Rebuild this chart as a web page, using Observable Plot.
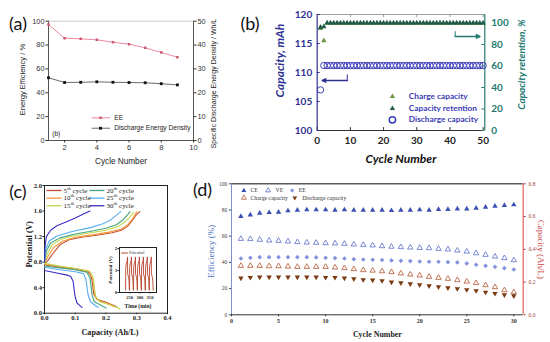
<!DOCTYPE html>
<html><head><meta charset="utf-8">
<script src="https://cdn.jsdelivr.net/npm/d3@7"></script>
<script src="https://cdn.jsdelivr.net/npm/@observablehq/plot@0.6"></script>
<style>
html,body{margin:0;padding:0;background:#fff;}
#wrap{position:relative;width:550px;height:342px;overflow:hidden;background:#fff;}
</style></head>
<body><div id="wrap"></div>
<script>
// ===================== DATA =====================
// Panel (a)
const cyclesA = [1,2,3,4,5,6,7,8,9];
const eeA = [97.2,85.7,85.2,84.4,82.4,80.7,77.7,73.8,69.8];
const densityA = [26.3,24.3,24.4,24.6,24.4,24.3,24.2,23.8,23.3];
const ticksAx = [2,4,6,8,10];
const ticksAy = [0,20,40,60,80,100];
const ticksAy2 = [0,10,20,30,40,50];
const legendA = ["EE","Discharge Energy Density"];

// Panel (b)
const cyclesB = [1,2,3,4,5,6,7,8,9,10,11,12,13,14,15,16,17,18,19,20,21,22,23,24,25,26,27,28,29,30,31,32,33,34,35,36,37,38,39,40,41,42,43,44,45,46,47,48,49,50];
const chargeB = [117.6,115.5,118.5,118.5,118.5,118.5,118.5,118.5,118.5,118.5,118.5,118.5,118.5,118.5,118.5,118.5,118.5,118.5,118.5,118.5,118.5,118.5,118.5,118.5,118.5,118.5,118.5,118.5,118.5,118.5,118.5,118.5,118.5,118.5,118.5,118.5,118.5,118.5,118.5,118.5,118.5,118.5,118.5,118.5,118.5,118.5,118.5,118.5,118.5,118.5];
const retentionB = [96.2,96.6,100,100,100,100,100,100,100,100,100,100,100,100,100,100,100,100,100,100,100,100,100,100,100,100,100,100,100,100,100,100,100,100,100,100,100,100,100,100,100,100,100,100,100,100,100,100,100,100];
const dischargeB = [107.0,111.2,111.2,111.2,111.2,111.2,111.2,111.2,111.2,111.2,111.2,111.2,111.2,111.2,111.2,111.2,111.2,111.2,111.2,111.2,111.2,111.2,111.2,111.2,111.2,111.2,111.2,111.2,111.2,111.2,111.2,111.2,111.2,111.2,111.2,111.2,111.2,111.2,111.2,111.2,111.2,111.2,111.2,111.2,111.2,111.2,111.2,111.2,111.2,111.2];
const ticksBx = [0,10,20,30,40,50];
const ticksBy = [100,105,110,115,120];
const ticksBy2 = [0,20,40,60,80,100];
const legendB = ["Charge capacity","Capacity retention","Discharge capacity"];

// Panel (c)
const cycleNamesC = ["5","10","15","20","25","30"];
const chargeC = [
  [[0,0.77],[0.01,0.82],[0.03,0.95],[0.05,1.07],[0.08,1.15],[0.12,1.19],[0.17,1.22],[0.22,1.26],[0.25,1.30],[0.27,1.36],[0.285,1.45],[0.3,1.55],[0.31,1.59]],
  [[0,0.78],[0.01,0.88],[0.03,1.03],[0.06,1.13],[0.10,1.19],[0.16,1.23],[0.21,1.27],[0.25,1.32],[0.27,1.38],[0.285,1.47],[0.295,1.55],[0.30,1.59]],
  [[0,0.79],[0.008,0.92],[0.025,1.07],[0.05,1.15],[0.09,1.21],[0.15,1.26],[0.2,1.30],[0.24,1.36],[0.265,1.44],[0.28,1.52],[0.29,1.58]],
  [[0,0.80],[0.006,0.97],[0.02,1.10],[0.05,1.18],[0.1,1.24],[0.16,1.29],[0.2,1.33],[0.235,1.39],[0.255,1.46],[0.27,1.54],[0.278,1.59]],
  [[0,0.82],[0.004,1.0],[0.015,1.13],[0.04,1.21],[0.09,1.28],[0.15,1.34],[0.19,1.40],[0.215,1.46],[0.235,1.54],[0.248,1.59]],
  [[0,0.80],[0.002,1.05],[0.006,1.2],[0.02,1.3],[0.04,1.37],[0.07,1.43],[0.1,1.49],[0.125,1.55],[0.148,1.60]]
];
const dischargeC = [
  [[0,0.76],[0.05,0.72],[0.1,0.69],[0.14,0.65],[0.15,0.6],[0.155,0.5],[0.16,0.3],[0.17,0.22],[0.2,0.17],[0.235,0.1]],
  [[0,0.77],[0.05,0.73],[0.1,0.70],[0.145,0.66],[0.155,0.58],[0.16,0.45],[0.165,0.27],[0.175,0.2],[0.21,0.14],[0.225,0.1]],
  [[0,0.78],[0.05,0.74],[0.1,0.70],[0.148,0.65],[0.158,0.55],[0.163,0.35],[0.168,0.24],[0.18,0.18],[0.22,0.12],[0.245,0.07]],
  [[0,0.74],[0.05,0.71],[0.1,0.68],[0.138,0.64],[0.148,0.55],[0.152,0.4],[0.155,0.28],[0.162,0.18],[0.185,0.12],[0.2,0.08]],
  [[0,0.72],[0.05,0.68],[0.1,0.65],[0.127,0.62],[0.135,0.52],[0.139,0.38],[0.142,0.28],[0.15,0.18],[0.165,0.12],[0.175,0.09]],
  [[0,0.67],[0.04,0.63],[0.07,0.6],[0.085,0.58],[0.093,0.5],[0.097,0.35],[0.1,0.25],[0.106,0.16],[0.115,0.12],[0.122,0.09]]
];
const ticksCx = [0,0.1,0.2,0.3,0.4];
const ticksCy = [0,0.4,0.8,1.2,1.6,2.0];
const insetTime = [230,230.5,233,238,239.5,240,245,247,248.5, 249.5,250,252.5,257.5,259,259.5,264.5,266.5,268, 269,269.5,272,277,278.5,279,284,286,287.5, 288.5,289,291.5,296.5,298,298.5,303.5,305.5,307, 308,308.5,311,316,317.5,318,323,325,326.5, 327.5,328,330.5,335.5,337,337.5,342.5,344.5,346, 347,347.5,350,355,356.5,357,362,364,365.5];
const insetV = [0.1,1.1,1.3,1.45,1.62,0.85,0.68,0.5,0.1, 0.1,1.1,1.3,1.45,1.62,0.85,0.68,0.5,0.1, 0.1,1.1,1.3,1.45,1.62,0.85,0.68,0.5,0.1, 0.1,1.1,1.3,1.45,1.62,0.85,0.68,0.5,0.1, 0.1,1.1,1.3,1.45,1.62,0.85,0.68,0.5,0.1, 0.1,1.1,1.3,1.45,1.62,0.85,0.68,0.5,0.1, 0.1,1.1,1.3,1.45,1.62,0.85,0.68,0.5,0.1];
const ticksInsetX = [250,300,350];
const ticksInsetY = [0,1,2];

// Panel (d)
const cyclesD = [1,2,3,4,5,6,7,8,9,10,11,12,13,14,15,16,17,18,19,20,21,22,23,24,25,26,27,28,29,30];
const ceD = [75.1,76.3,77.6,78.1,78.4,79.4,79.9,80.2,80.2,80.2,79.9,80.2,79.9,79.9,79.9,79.9,79.6,79.9,79.9,80.2,79.9,80.4,80.4,80.9,80.9,81.4,82.2,82.9,83.5,84.0];
const veD = [58,57.8,57.3,56.7,56.5,56,55.5,55.2,55,54.7,54.5,54.2,53.7,53.4,53,52.4,52,51.7,51.4,51.1,50.9,50.4,49.9,49.1,48.3,47,45.8,44.5,43.3,41.7];
const eeD = [43,43.5,44,44,44,44,44,44,43.8,43.5,43.3,43,42.5,42.2,42,41.8,41.5,41.2,41,40.7,40.5,40.5,40.2,40,39.2,38.2,37.4,36.6,35.6,34.6];
const chargeD = [0.299,0.299,0.299,0.297,0.297,0.295,0.293,0.293,0.293,0.293,0.289,0.285,0.279,0.273,0.270,0.266,0.261,0.253,0.246,0.240,0.232,0.226,0.220,0.212,0.203,0.194,0.181,0.169,0.150,0.138];
const dischargeD = [0.224,0.228,0.230,0.230,0.230,0.230,0.230,0.230,0.230,0.228,0.228,0.224,0.220,0.214,0.212,0.208,0.200,0.195,0.189,0.183,0.177,0.171,0.165,0.159,0.153,0.147,0.138,0.130,0.122,0.116];
const ticksDx = [0,5,10,15,20,25,30];
const ticksDy = [0,20,40,60,80,100];
const ticksDy2 = [0,0.2,0.4,0.6,0.8];

// ===================== STYLES =====================
const colorsC = ["#c4502f","#f2983a","#c3d64e","#45a57a","#58aef0","#3a2ec6"];
const SANS = "'Liberation Sans', Arial, sans-serif";
const LATO = "Lato, 'Liberation Sans', sans-serif";
const SERIF = "'Liberation Serif', 'Times New Roman', serif";
const wrap = document.getElementById("wrap");
function place(svg, left, top) {
  svg.style.position = "absolute";
  svg.style.left = left + "px";
  svg.style.top = top + "px";
  wrap.appendChild(svg);
}
const st = (ff) => ({background: "transparent", overflow: "visible", fontFamily: ff, maxWidth: "none"});
const T = (s, o) => Plot.text([s], {text: d => d, textAnchor: "middle", lineAnchor: "middle", ...o});

// ===================== PANEL (a) =====================
const kA = 100 / 50;
const rowsA = cyclesA.map((c, i) => ({c, ee: eeA[i], dens: densityA[i] * kA}));
const A = Plot.plot({
  width: 230, height: 171, marginLeft: 48, marginRight: 37, marginTop: 20.7, marginBottom: 31,
  x: {domain: [1, 10]}, y: {domain: [0, 100]},
  style: st(SANS),
  marks: [
    Plot.ruleY([100], {stroke: "#c8c8c8"}),
    Plot.ruleX([1, 10], {stroke: "#555"}),
    Plot.ruleY([0], {stroke: "#555"}),
    Plot.line(rowsA, {x: "c", y: "ee", stroke: "#f08aa2", strokeWidth: 1}),
    Plot.dot(rowsA, {x: "c", y: "ee", symbol: "square", r: 1.4, fill: "#c9556a"}),
    Plot.line(rowsA, {x: "c", y: "dens", stroke: "#62706a", strokeWidth: 1}),
    Plot.dot(rowsA, {x: "c", y: "dens", symbol: "square", r: 1.6, fill: "#111"}),
    Plot.axisY(ticksAy, {anchor: "left", tickSize: 2.5, tickPadding: 1.5, fontSize: 7.4, color: "#333", label: null}),
    Plot.axisY(ticksAy2.map(v => v * kA), {anchor: "right", tickSize: 2.5, tickPadding: 1.5, tickFormat: d => d / kA, fontSize: 7.4, color: "#333", label: null}),
    Plot.axisX(ticksAx, {anchor: "bottom", tickSize: 2.5, tickPadding: 1.5, fontSize: 7.6, color: "#333", label: null}),
    // legend
    Plot.ruleY([19.0], {x1: 3.71, x2: 4.85, stroke: "#f08aa2"}),
    Plot.dot([0], {x: 4.23, y: 19.0, symbol: "square", r: 1.4, fill: "#c9556a"}),
    Plot.ruleY([10.3], {x1: 3.71, x2: 4.85, stroke: "#62706a"}),
    Plot.dot([0], {x: 4.23, y: 10.3, symbol: "square", r: 1.6, fill: "#111"}),
    Plot.text(legendA, {x: 5.08, y: (d, i) => [19.0, 10.3][i], text: d => d, textAnchor: "start", fontSize: 6.6, fill: "#222"}),
    Plot.text(["(b)"], {x: 1.23, y: 5.6, text: d => d, textAnchor: "start", fontSize: 6.6, fill: "#222"}),
    // titles
    T("Energy Efficiency / %", {frameAnchor: "left", dx: -26.3, dy: -1.3, rotate: -90, fontSize: 7.6, fill: "#222"}),
    T("Specific Discharge Energy Density / Wh/L", {frameAnchor: "right", dx: 20, dy: 2.7, rotate: -90, fontSize: 7, fill: "#222"}),
    T("Cycle Number", {frameAnchor: "bottom", dy: 21, fontSize: 8.2, fill: "#222"}),
    T("(a)", {frameAnchor: "top-left", dx: -30.5, dy: 3.3, fontSize: 18, fontFamily: LATO, fill: "#111"})
  ]
});
place(A, 0, 0);

// ===================== PANEL (b) =====================
const kB = (118.53 - 100) / 100;
const blueB = "#2e3192", tealB = "#237a72";
const rowsB = cyclesB.map((c, i) => ({c, ch: chargeB[i], ret: 100 + retentionB[i] * kB, dis: dischargeB[i]}));
const B = Plot.plot({
  width: 320, height: 171, marginLeft: 86.7, marginRight: 65.7, marginTop: 14, marginBottom: 41,
  x: {domain: [0, 50.5]}, y: {domain: [100, 120]},
  style: st(LATO),
  marks: [
    Plot.ruleY([120], {stroke: "#a0a0a0"}),
    Plot.ruleX([0], {stroke: blueB, strokeWidth: 1.2}),
    Plot.ruleX([50.5], {stroke: tealB, strokeWidth: 1.2}),
    Plot.ruleY([100], {stroke: "#333", strokeWidth: 1.2}),
    Plot.ruleX(ticksBx, {y1: 100, y2: 100.5, stroke: "#333"}),
    Plot.ruleX(ticksBx, {y1: 119.5, y2: 120, stroke: "#999"}),
    Plot.ruleY(ticksBy, {x1: 0, x2: 0.9, stroke: blueB}),
    Plot.ruleY(ticksBy2.map(r => 100 + r * kB), {x1: 49.6, x2: 50.5, stroke: tealB}),
    Plot.dot(rowsB, {x: "c", y: "dis", r: 3.2, stroke: "#3d3db8", strokeWidth: 1, fill: "none"}),
    Plot.dot(rowsB, {x: "c", y: "ch", symbol: "triangle", r: 2, fill: "#6a9442"}),
    Plot.dot(rowsB, {x: "c", y: "ret", symbol: "triangle", r: 2, fill: "#1f5a4c"}),
    // arrows
    Plot.link([0], {x1: 9.06, y1: 109.66, x2: 9.06, y2: 108.62, stroke: blueB}),
    Plot.arrow([0], {x1: 9.06, y1: 108.62, x2: 1.51, y2: 108.62, stroke: blueB, headLength: 4, headAngle: 50}),
    Plot.link([0], {x1: 41.57, y1: 117.12, x2: 41.57, y2: 116.21, stroke: tealB}),
    Plot.arrow([0], {x1: 41.57, y1: 116.21, x2: 49.03, y2: 116.21, stroke: tealB, headLength: 4, headAngle: 50}),
    // axes
    Plot.axisY(ticksBy, {anchor: "left", tickSize: 0, tickPadding: 5, fontSize: 10, fontWeight: "bold", color: blueB, label: null}),
    Plot.axisY(ticksBy2.map(r => 100 + r * kB), {anchor: "right", tickSize: 0, tickPadding: 6.5, tickFormat: d => Math.round((d - 100) / kB), fontSize: 10, fontWeight: "bold", color: tealB, label: null}),
    Plot.axisX(ticksBx, {anchor: "bottom", tickSize: 0, tickPadding: 6, fontSize: 10, fontWeight: "bold", color: "#222", label: null}),
    // legend
    Plot.dot([0], {x: 22.66, y: 105.86, symbol: "triangle", r: 2, fill: "#6a9442"}),
    Plot.dot([0], {x: 22.66, y: 103.79, symbol: "triangle", r: 2, fill: "#1f5a4c"}),
    Plot.dot([0], {x: 22.66, y: 101.84, r: 3.2, stroke: "#3d3db8", fill: "none"}),
    Plot.text(legendB, {x: 27.6, y: (d, i) => [105.86, 103.79, 101.84][i], text: d => d, textAnchor: "start", fontSize: 8.3, fontWeight: "bold", fill: "#3a3ab4"}),
    // titles
    T("Capacity, mAh", {frameAnchor: "left", dx: -37.2, dy: -12, rotate: -90, fontSize: 12, fontWeight: "bold", fontStyle: "italic", fill: blueB}),
    T("Capacity retention, %", {frameAnchor: "right", dx: 36.7, dy: -8, rotate: -90, fontSize: 10, fontWeight: "bold", fontStyle: "italic", fill: tealB}),
    T("Cycle Number", {frameAnchor: "bottom", dy: 28.3, fontSize: 12, fontWeight: "bold", fontStyle: "italic", fill: "#111"}),
    T("(b)", {frameAnchor: "top-left", dx: -67.2, dy: 10, fontSize: 18, fill: "#111"})
  ]
});
place(B, 230, 0);

// ===================== PANEL (c) =====================
const pxC = 0.4 / 123;           // data units per pixel on the capacity axis
const digitW = 3.5;              // width of one digit at the legend font size
const legendPos = [
  {x1: 0.0065, x2: 0.0553, tx: 0.0618, y: 1.922},
  {x1: 0.0065, x2: 0.0553, tx: 0.0618, y: 1.802},
  {x1: 0.0065, x2: 0.0553, tx: 0.0618, y: 1.683},
  {x1: 0.146, x2: 0.195, tx: 0.2016, y: 1.922},
  {x1: 0.146, x2: 0.195, tx: 0.2016, y: 1.802},
  {x1: 0.146, x2: 0.195, tx: 0.2016, y: 1.683}
];
const legC = cycleNamesC.map((n, i) => ({
  n, color: colorsC[i], ...legendPos[i],
  thx: legendPos[i].tx + (n.length * digitW + 0.2) * pxC,
  cx: legendPos[i].tx + (n.length * digitW + 5.6) * pxC
}));
const C = Plot.plot({
  width: 190, height: 171, marginLeft: 44, marginRight: 23, marginTop: 14, marginBottom: 29.3,
  x: {domain: [0, 0.4]}, y: {domain: [0, 2]},
  style: st(SERIF),
  marks: [
    Plot.frame({stroke: "#222"}),
    ...cycleNamesC.map((n, i) => Plot.line(chargeC[i], {x: d => d[0], y: d => d[1], stroke: colorsC[i], strokeWidth: 1.1})),
    ...cycleNamesC.map((n, i) => Plot.line(dischargeC[i], {x: d => d[0], y: d => d[1], stroke: colorsC[i], strokeWidth: 1.1})),
    Plot.axisY(ticksCy, {anchor: "left", tickSize: 1.5, tickPadding: 1, tickFormat: d3.format(".1f"), fontSize: 6.6, fontWeight: "bold", color: "#222", label: null}),
    Plot.axisX(ticksCx, {anchor: "bottom", tickSize: 1.5, tickPadding: 1, tickFormat: d3.format(".1f"), fontSize: 6.6, fontWeight: "bold", color: "#222", label: null}),
    Plot.link(legC, {x1: "x1", x2: "x2", y1: "y", y2: "y", stroke: "color", strokeWidth: 1.3}),
    Plot.text(legC, {x: "tx", y: "y", text: "n", textAnchor: "start", fontSize: 7, fill: "#222"}),
    Plot.text(legC, {x: "thx", y: "y", text: () => "th", textAnchor: "start", fontSize: 4.6, fill: "#222", dy: -2.2}),
    Plot.text(legC, {x: "cx", y: "y", text: () => "cycle", textAnchor: "start", fontSize: 7, fill: "#222"}),
    T("Potential (V)", {frameAnchor: "left", dx: -15.7, dy: -5, rotate: -90, fontSize: 8.5, fontWeight: "bold", fill: "#222"}),
    T("Capacity (Ah/L)", {frameAnchor: "bottom", dx: 4, dy: 19.3, fontSize: 8.2, fontWeight: "bold", fill: "#222"}),
    T("(c)", {frameAnchor: "top-left", dx: -26.5, dy: 7, fontSize: 18, fontFamily: LATO, fill: "#111"})
  ]
});
place(C, 0, 171);

// inset
const insetRows = insetTime.map((t, i) => ({t, v: insetV[i]}));
const I = Plot.plot({
  width: 70, height: 75, marginLeft: 19, marginRight: 14, marginTop: 7, marginBottom: 23,
  x: {domain: [200, 382]}, y: {domain: [0, 2.05]},
  style: st(SERIF),
  marks: [
    Plot.frame({stroke: "#222", fill: "white"}),
    Plot.line(insetRows, {x: "t", y: "v", stroke: "#b8442c", strokeWidth: 0.9}),
    Plot.axisY(ticksInsetY, {anchor: "left", tickSize: 1.5, tickPadding: 0.8, fontSize: 5, fontWeight: "bold", color: "#222", label: null}),
    Plot.axisX(ticksInsetX, {anchor: "bottom", tickSize: 1.5, tickPadding: 1.5, fontSize: 4.6, fontWeight: "bold", color: "#222", label: null}),
    Plot.ruleY([1.8], {x1: 211, x2: 244, stroke: "#b8442c", strokeWidth: 1}),
    Plot.text(["Potential"], {x: 247, y: 1.8, text: d => d, textAnchor: "start", fontSize: 4.3, fill: "#333"}),
    T("Potential (V)", {frameAnchor: "left", dx: -9.5, rotate: -90, fontSize: 5, fontWeight: "bold", fill: "#222"}),
    T("Time (min)", {frameAnchor: "bottom", dy: 14, fontSize: 5.6, fontWeight: "bold", fill: "#222"})
  ]
});
place(I, 100, 240);

// ===================== PANEL (d) =====================
const kD = 100 / 0.8;
const triDown = {draw(ctx, size) {
  const s3 = Math.sqrt(3), y = -Math.sqrt(size / (s3 * 3));
  ctx.moveTo(0, -2 * y); ctx.lineTo(-s3 * y, y); ctx.lineTo(s3 * y, y); ctx.closePath();
}};
const rowsD = cyclesD.map((c, i) => ({c, ce: ceD[i], ve: veD[i], ee: eeD[i], ch: chargeD[i] * kD, dis: dischargeD[i] * kD}));
const cCE = "#3b4fb2", cVE = "#5a6cc8", cEE = "#8592dc", cCh = "#b3552e", cDis = "#7a3b12";
const D = Plot.plot({
  width: 360, height: 171, marginLeft: 41, marginRight: 27.3, marginTop: 12.3, marginBottom: 27.7,
  x: {domain: [0, 31]}, y: {domain: [0, 100]},
  style: st(SERIF),
  marks: [
    Plot.ruleY([100], {stroke: "#5a5a5a", strokeWidth: 1.6}),
    Plot.ruleX([0], {stroke: "#7f8fc8"}),
    Plot.ruleX([31], {stroke: "#e06060", strokeWidth: 1.2}),
    Plot.ruleY([0], {stroke: "#333"}),
    Plot.dot(rowsD, {x: "c", y: "ce", symbol: "triangle", r: 2, fill: cCE}),
    Plot.dot(rowsD, {x: "c", y: "ve", symbol: "triangle", r: 2, stroke: cVE, strokeWidth: 0.8, fill: "none"}),
    Plot.dot(rowsD, {x: "c", y: "ee", symbol: "diamond2", r: 2.1, fill: cEE}),
    Plot.dot(rowsD, {x: "c", y: "ch", symbol: "triangle", r: 2, stroke: cCh, strokeWidth: 0.8, fill: "none"}),
    Plot.dot(rowsD, {x: "c", y: "dis", symbol: triDown, r: 2, fill: cDis}),
    Plot.axisY(ticksDy, {anchor: "left", tickSize: 2, tickPadding: 2.3, fontSize: 5.5, color: "#444", label: null}),
    Plot.axisY(ticksDy2.map(v => v * kD), {anchor: "right", tickSize: 2, tickPadding: 3.3, tickFormat: d => (d / kD).toFixed(1), fontSize: 5.5, color: "#9a3b3b", label: null}),
    Plot.axisX(ticksDx, {anchor: "bottom", tickSize: 2, tickPadding: 1.7, fontSize: 6, fontWeight: "bold", color: "#333", label: null}),
    // legend
    Plot.dot([0], {x: 1.31, y: 94.9, symbol: "triangle", r: 1.8, fill: cCE}),
    Plot.dot([0], {x: 3.9, y: 94.9, symbol: "triangle", r: 1.8, stroke: cVE, strokeWidth: 0.8, fill: "none"}),
    Plot.dot([0], {x: 6.45, y: 94.9, symbol: "diamond2", r: 1.9, fill: cEE}),
    Plot.dot([0], {x: 1.31, y: 89.3, symbol: "triangle", r: 1.8, stroke: cCh, strokeWidth: 0.8, fill: "none"}),
    Plot.dot([0], {x: 6.73, y: 89.3, symbol: triDown, r: 1.8, fill: cDis}),
    Plot.text(["CE", "VE", "EE"], {x: (d, i) => [2.02, 4.68, 7.15][i], y: 94.9, text: d => d, textAnchor: "start", fontSize: 5.8, fill: "#333"}),
    Plot.text(["Charge capacity", "Discharge capacity"], {x: (d, i) => [2.02, 7.51][i], y: 89.3, text: d => d, textAnchor: "start", fontSize: 5.8, fill: "#333"}),
    // titles
    T("Efficiency (%)", {frameAnchor: "left", dx: -20, dy: 2, rotate: -90, fontSize: 9, fill: "#4a6fc0"}),
    T("Capacity (Ah/L)", {frameAnchor: "right", dx: 17.3, rotate: 90, fontSize: 9, fill: "#c84444"}),
    T("Cycle Number", {frameAnchor: "bottom", dy: 19.7, fontSize: 7.9, fontWeight: "bold", fill: "#222"}),
    T("(d)", {frameAnchor: "top-left", dx: -29, dy: 6.7, fontSize: 18, fontFamily: LATO, fill: "#111"})
  ]
});
place(D, 190, 171);
</script>
</body></html>
